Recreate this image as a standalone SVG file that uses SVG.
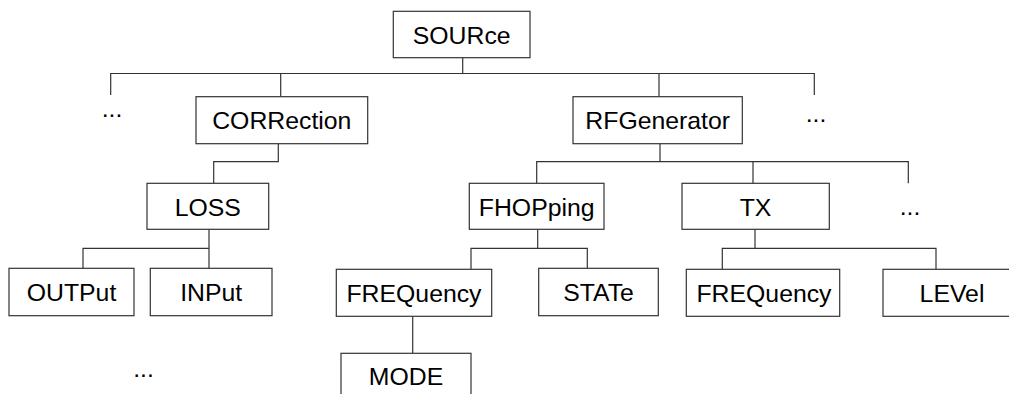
<svg xmlns="http://www.w3.org/2000/svg" width="1009" height="394" viewBox="0 0 1009 394">
<style>
.box{fill:#fff;stroke:#333;stroke-width:1.2}
.lbl{font-family:"Liberation Sans",Arial,sans-serif;font-size:24.8px;fill:#000;text-anchor:middle}
.con{fill:none;stroke:#333;stroke-width:1.2}
</style>
<rect width="1009" height="394" fill="#fff"/>
<g id="connectors">
<path class="con" d="M462.7,57.7V73.5M110.7,95V73.5H814.3V95M280.7,73.5V96.7M659,73.5V96.7"/>
<path class="con" d="M278.3,143.7V161.7H213.7V183.3"/>
<path class="con" d="M660,143.7V161.7M536.7,183.3V161.7H908.3V183.3M753,161.7V183.3"/>
<path class="con" d="M209,229.3V268.3M209,248.3H83V268.3"/>
<path class="con" d="M537.7,229.3V248.3M471,269.3V248.3H587.3V268.3"/>
<path class="con" d="M755,229.3V248.3M722.3,269.3V248.3H936V269.3"/>
<path class="con" d="M412.7,316.3V353.3"/>
</g>
<g id="SOURce"><rect class="box" x="393.3" y="11.3" width="136.7" height="46.4"/><text class="lbl" x="461.7" y="43.5">SOURce</text></g>
<g id="dots1"><text class="lbl" x="112" y="116.5">...</text></g>
<g id="CORRection"><rect class="box" x="196" y="96.7" width="171.7" height="47"/><text class="lbl" x="281.8" y="129.3">CORRection</text></g>
<g id="RFGenerator"><rect class="box" x="573" y="96.7" width="169.3" height="47"/><text class="lbl" x="657.7" y="129.3">RFGenerator</text></g>
<g id="dots2"><text class="lbl" x="816" y="121.5">...</text></g>
<g id="LOSS"><rect class="box" x="147" y="183.3" width="121.7" height="46"/><text class="lbl" x="207.8" y="215.5">LOSS</text></g>
<g id="FHOPping"><rect class="box" x="469.3" y="183.3" width="134.7" height="46"/><text class="lbl" x="536.7" y="215.5">FHOPping</text></g>
<g id="TX"><rect class="box" x="682" y="183.3" width="147.3" height="46"/><text class="lbl" x="755.5" y="215.5">TX</text></g>
<g id="dots3"><text class="lbl" x="910" y="215">...</text></g>
<g id="OUTPut"><rect class="box" x="9" y="268.3" width="125" height="47.4"/><text class="lbl" x="71.5" y="301">OUTPut</text></g>
<g id="INPut"><rect class="box" x="150.3" y="268.3" width="121.7" height="47.4"/><text class="lbl" x="211.2" y="301">INPut</text></g>
<g id="FREQuency1"><rect class="box" x="336.3" y="269.3" width="155.4" height="47"/><text class="lbl" x="414" y="301.5">FREQuency</text></g>
<g id="STATe"><rect class="box" x="538.7" y="268.3" width="119.6" height="47.4"/><text class="lbl" x="598.5" y="301">STATe</text></g>
<g id="FREQuency2"><rect class="box" x="686.3" y="269.3" width="153.4" height="47"/><text class="lbl" x="764" y="301.5">FREQuency</text></g>
<g id="LEVel"><rect class="box" x="883" y="269.3" width="140" height="47"/><text class="lbl" x="952" y="301.5">LEVel</text></g>
<g id="dots4"><text class="lbl" x="143.5" y="376.5">...</text></g>
<g id="MODE"><rect class="box" x="341" y="353.3" width="130" height="47"/><text class="lbl" x="406" y="385">MODE</text></g>
</svg>
